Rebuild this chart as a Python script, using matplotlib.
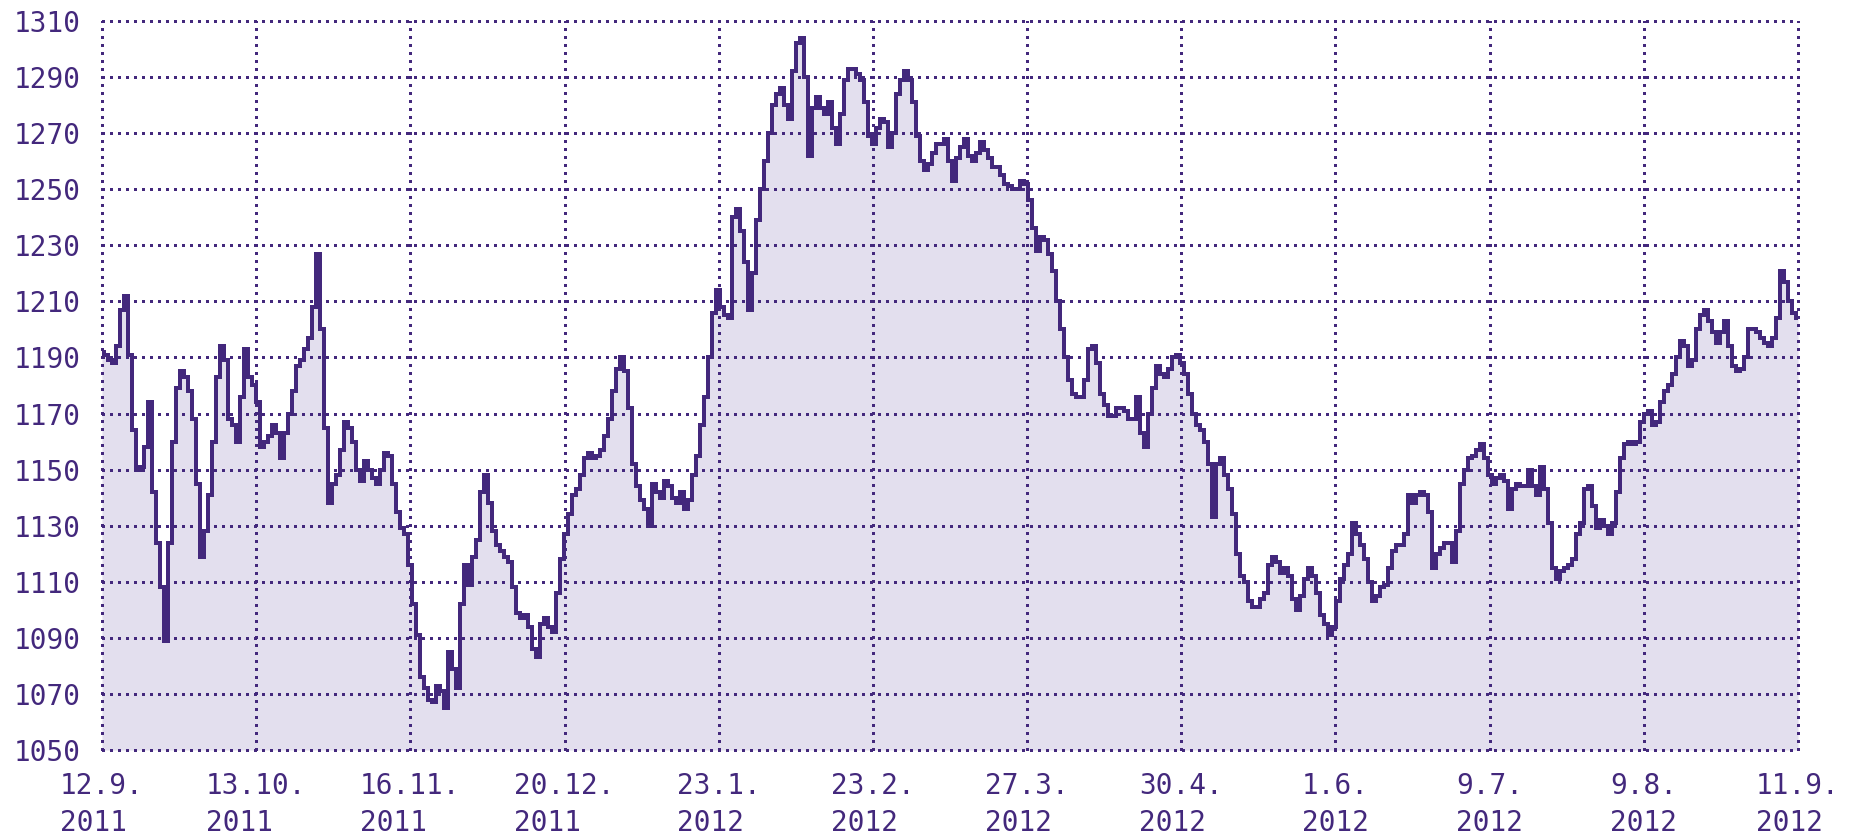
import matplotlib.pyplot as plt
import numpy as np

# index level, one value per ~4 px (roughly one per trading day)
close_sep_nov = [
    1192, 1191, 1189, 1188, 1194, 1207, 1212, 1191, 1164, 1150,
    1151, 1158, 1174, 1142, 1124, 1108, 1089, 1124, 1160, 1179,
    1185, 1183, 1178, 1168, 1145, 1119, 1128, 1141, 1160, 1183,
    1194, 1189, 1168, 1166, 1160, 1176, 1193, 1183, 1180, 1174,
    1158, 1160, 1162, 1166, 1163, 1154, 1163, 1170, 1178, 1187,
    1189, 1193, 1197, 1208, 1227, 1200, 1165, 1138, 1145, 1148,
    1157, 1167, 1165, 1160, 1150, 1146, 1153, 1150, 1147, 1145,
    1150, 1156, 1155, 1145,
]
close_nov_jan = [
    1135, 1129, 1127, 1116, 1102, 1091, 1076, 1072, 1068, 1067,
    1073, 1071, 1065, 1085, 1079, 1072, 1102, 1116, 1109, 1119,
    1125, 1142, 1148, 1138, 1128, 1123, 1121, 1119, 1117, 1108,
    1099, 1097, 1098, 1094, 1086, 1083, 1095, 1097, 1094, 1092,
    1106, 1118, 1127, 1134, 1141, 1143, 1148, 1154, 1156, 1154,
    1155, 1157, 1162, 1168, 1178, 1186, 1190, 1185, 1172, 1152,
    1144, 1139, 1136, 1130, 1145, 1142, 1140, 1146, 1144, 1140,
    1138, 1142,
]
close_jan_mar = [
    1136, 1139, 1148, 1155, 1166, 1176, 1190, 1206, 1214, 1208,
    1205, 1204, 1240, 1243, 1235, 1224, 1207, 1220, 1239, 1250,
    1260, 1270, 1280, 1284, 1286, 1280, 1275, 1292, 1302, 1304,
    1290, 1262, 1279, 1283, 1279, 1277, 1281, 1272, 1266, 1277,
    1289, 1293, 1293, 1291, 1289, 1281, 1269, 1266, 1272, 1275,
    1274, 1265, 1270, 1284, 1289, 1292, 1289, 1281, 1269, 1260,
    1257, 1259, 1263, 1266, 1266, 1268, 1260, 1253, 1261, 1265,
    1268, 1262, 1260,
]
close_mar_may = [
    1263, 1267, 1264, 1261, 1258, 1258, 1255, 1252, 1251, 1250,
    1250, 1253, 1252, 1246, 1236, 1228, 1233, 1232, 1227, 1221,
    1210, 1200, 1190, 1182, 1177, 1176, 1176, 1182, 1193, 1194,
    1188, 1177, 1173, 1169, 1169, 1172, 1172, 1171, 1168, 1168,
    1176, 1163, 1158, 1170, 1179, 1187, 1184, 1183, 1186, 1190,
    1191, 1188, 1184, 1177, 1170, 1166, 1164, 1160, 1152, 1133,
    1152, 1154, 1148, 1143, 1134, 1120, 1112, 1110, 1103, 1101,
    1101, 1104,
]
close_may_aug = [
    1106, 1116, 1119, 1117, 1113, 1115, 1112, 1104, 1100, 1105,
    1111, 1115, 1112, 1106, 1098, 1095, 1091, 1094, 1103, 1111,
    1116, 1120, 1131, 1127, 1123, 1118, 1110, 1103, 1105, 1108,
    1109, 1115, 1121, 1123, 1123, 1127, 1141, 1138, 1141, 1142,
    1141, 1135, 1115, 1120, 1122, 1124, 1124, 1117, 1128, 1145,
    1150, 1154, 1155, 1157, 1159, 1154, 1148, 1145, 1147, 1148,
    1146, 1136, 1143, 1145, 1144, 1144, 1150, 1144, 1141, 1151,
    1143, 1131, 1115,
]
close_aug_sep = [
    1111, 1114, 1115, 1116, 1118, 1127, 1131, 1143, 1144, 1137,
    1129, 1132, 1130, 1127, 1131, 1142, 1154, 1159, 1160, 1159,
    1160, 1167, 1170, 1171, 1166, 1167, 1174, 1178, 1180, 1184,
    1190, 1196, 1194, 1187, 1189, 1200, 1205, 1207, 1203, 1199,
    1195, 1199, 1203, 1194, 1187, 1185, 1186, 1190, 1200, 1200,
    1199, 1197, 1195, 1194, 1197, 1204, 1221, 1217, 1210, 1206,
    1204,
]

tick_dates = ['12.9.', '13.10.', '16.11.', '20.12.', '23.1.', '23.2.',
              '27.3.', '30.4.', '1.6.', '9.7.', '9.8.', '11.9.']
tick_years = ['2011', '2011', '2011', '2011', '2012', '2012',
              '2012', '2012', '2012', '2012', '2012', '2012']
y_ticks = [1050, 1070, 1090, 1110, 1130, 1150, 1170, 1190,
           1210, 1230, 1250, 1270, 1290, 1310]

PURPLE = '#43287c'
FILL = '#e3dfee'


def main():
    values = np.array(close_sep_nov + close_nov_jan + close_jan_mar
                      + close_mar_may + close_may_aug + close_aug_sep)
    x = np.arange(len(values))

    plt.rcParams['font.family'] = ['DejaVu Sans Mono']
    fig = plt.figure(figsize=(18.5, 8.34), dpi=100)
    ax = fig.add_axes([102 / 1850, 84 / 834, 1696 / 1850, 729 / 834])

    ax.fill_between(x, values, y_ticks[0], step='mid', color=FILL,
                    linewidth=0, zorder=1)
    ax.plot(x, values, drawstyle='steps-mid', color=PURPLE, linewidth=2.6,
            solid_joinstyle='miter', antialiased=False, zorder=3)

    ax.set_xlim(0, len(values) - 1)
    ax.set_ylim(y_ticks[0], y_ticks[-1])

    ax.set_xticks(np.linspace(0, len(values) - 1, len(tick_dates)))
    ax.set_xticklabels([d + '\n' + y for d, y in zip(tick_dates, tick_years)])
    ax.set_yticks(y_ticks)

    for lbl in ax.get_xticklabels():
        lbl.set_multialignment('left')
        lbl.set_linespacing(1.4)

    ax.tick_params(length=0, labelsize=20, colors=PURPLE)
    ax.tick_params(axis='y', pad=15)
    ax.tick_params(axis='x', pad=16)

    ax.grid(True, color=PURPLE, linewidth=2.1, linestyle=(0, (1, 2)),
            dash_capstyle='butt', antialiased=False)
    for line in ax.get_xgridlines() + ax.get_ygridlines():
        line.set_clip_on(False)

    for s in ax.spines.values():
        s.set_visible(False)

    fig.savefig('out.png', dpi=100, facecolor='white')


if __name__ == '__main__':
    main()
